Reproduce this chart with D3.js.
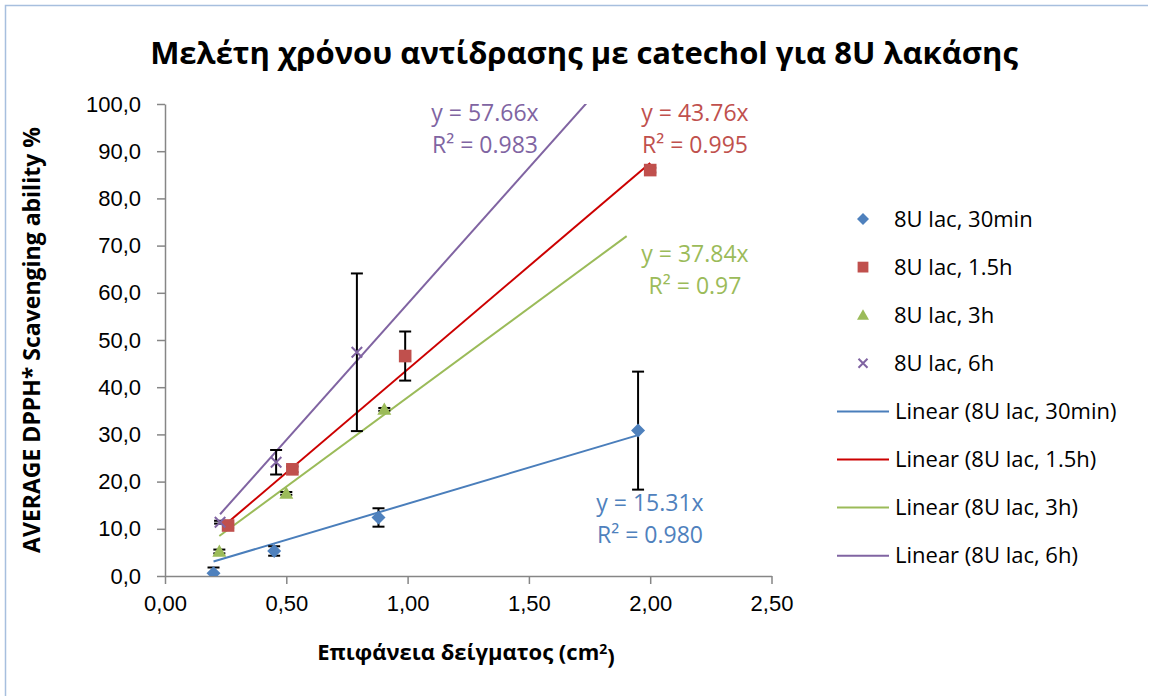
<!DOCTYPE html>
<html>

<head>
    <title>Μελέτη χρόνου αντίδρασης</title>
    <script src="https://d3js.org/d3.v7.min.js"></script>
    <style>
        body {
            margin: 0;
            background: #fff;
            font-family: "Open Sans", "Noto Sans", sans-serif;
        }

        .axis path,
        .axis line {
            stroke: #868686;
            stroke-width: 1.5px;
        }

        .axis text {
            font-size: 22px;
            fill: #000;
        }
    </style>
</head>

<body>
    <div id="chart"></div>

    <script>
        // series names
        const seriesNames = ["8U lac, 30min", "8U lac, 1.5h", "8U lac, 3h", "8U lac, 6h"];

        // sample surface (cm2) and average scavenging ability (%) per series
        const xs30min = [0.20, 0.45, 0.88, 1.95];
        const ys30min = [0.6, 5.3, 12.4, 30.8];
        const err30min = [1.2, 1.0, 1.95, 12.5];

        const xs15h = [0.26, 0.525, 0.99, 2.00];
        const ys15h = [10.7, 22.6, 46.6, 86.0];
        const err15h = [0.5, 0.6, 5.2, 0.5];

        const xs3h = [0.224, 0.50, 0.904];
        const ys3h = [5.2, 17.5, 35.3];
        const err3h = [0.4, 0.3, 0.3];

        const xs6h = [0.227, 0.458, 0.791];
        const ys6h = [11.4, 24.1, 47.4];
        const err6h = [0.3, 2.6, 16.7];

        // linear trend lines through origin (y = a*x) and their x range
        const trendSlopes = [15.31, 43.76, 37.84, 57.66];
        const trendR2 = ["0.980", "0.995", "0.97", "0.983"];
        const trendFrom = [0.20, 0.26, 0.224, 0.227];
        const trendTo = [1.95, 2.00, 1.903, 1.95];

        // axis ticks
        const xTicks = [0, 0.5, 1, 1.5, 2, 2.5];
        const yTicks = [0, 10, 20, 30, 40, 50, 60, 70, 80, 90, 100];

        const markerColors = ["#4F81BD", "#C0504D", "#9BBB59", "#8064A2"];
        const lineColors = ["#4A7EBB", "#CC0000", "#9BBB59", "#8064A2"];

        const series = [
            { xs: xs30min, ys: ys30min, err: err30min, shape: "diamond" },
            { xs: xs15h, ys: ys15h, err: err15h, shape: "square" },
            { xs: xs3h, ys: ys3h, err: err3h, shape: "triangle" },
            { xs: xs6h, ys: ys6h, err: err6h, shape: "cross" }
        ];

        const width = 1153, height = 696;
        const margin = { top: 104, right: 381.5, bottom: 120, left: 165 };
        const plotW = width - margin.left - margin.right,
            plotH = height - margin.top - margin.bottom;

        const locale = d3.formatLocale({ decimal: ",", thousands: ".", grouping: [3], currency: ["", "€"] });

        const svg = d3.select("#chart")
            .append("svg")
            .attr("width", width)
            .attr("height", height);

        // chart frame
        svg.append("path")
            .attr("d", `M5.5,${height} V5.5 H1148`)
            .attr("fill", "none")
            .attr("stroke", "#A7BFDE")
            .attr("stroke-width", 1.5);

        svg.append("text")
            .attr("x", 584)
            .attr("y", 64)
            .attr("text-anchor", "middle")
            .style("font-size", "31px")
            .style("font-weight", "bold")
            .text("Μελέτη χρόνου αντίδρασης με catechol για 8U λακάσης");

        const g = svg.append("g")
            .attr("transform", `translate(${margin.left},${margin.top})`);

        g.append("clipPath").attr("id", "plotClip")
            .append("rect").attr("width", plotW).attr("height", plotH);

        const x = d3.scaleLinear().domain([0, 2.5]).range([0, plotW]);
        const y = d3.scaleLinear().domain([0, 100]).range([plotH, 0]);

        g.append("g")
            .attr("class", "axis")
            .attr("transform", `translate(0,${plotH})`)
            .call(d3.axisBottom(x).tickValues(xTicks).tickSize(8).tickSizeOuter(0)
                .tickFormat(locale.format(".2f")))
            .selectAll("text").attr("dy", "1.1em");

        g.append("g")
            .attr("class", "axis")
            .call(d3.axisLeft(y).tickValues(yTicks).tickSize(8).tickSizeOuter(0)
                .tickFormat(locale.format(".1f")))
            .selectAll("text").attr("x", -24);

        svg.append("text")
            .attr("transform", "translate(40,340) rotate(-90)")
            .attr("text-anchor", "middle")
            .style("font-size", "23px")
            .style("font-weight", "bold")
            .text("AVERAGE DPPH* Scavenging ability %");

        const xTitle = svg.append("text")
            .attr("x", 466)
            .attr("y", 660)
            .attr("text-anchor", "middle")
            .style("font-size", "22px")
            .style("font-weight", "bold");
        xTitle.append("tspan").text("Επιφάνεια δείγματος (cm");
        xTitle.append("tspan").text("2").attr("dy", "-0.45em").style("font-size", "14px");
        xTitle.append("tspan").text(")").attr("dy", "0.45em");

        const plot = g.append("g").attr("clip-path", "url(#plotClip)");

        // trend lines
        trendSlopes.forEach((a, i) => {
            plot.append("line")
                .attr("x1", x(trendFrom[i]))
                .attr("y1", y(a * trendFrom[i]))
                .attr("x2", x(trendTo[i]))
                .attr("y2", y(a * trendTo[i]))
                .attr("stroke", lineColors[i])
                .attr("stroke-width", 2);
        });

        function drawMarker(sel, shape, color, r) {
            if (shape === "diamond") {
                sel.append("path").attr("d", `M0,${-r}L${r},0L0,${r}L${-r},0Z`).attr("fill", color);
            } else if (shape === "square") {
                const h = r * 0.9;
                sel.append("rect").attr("x", -h).attr("y", -h).attr("width", 2 * h).attr("height", 2 * h)
                    .attr("fill", color);
            } else if (shape === "triangle") {
                sel.append("path").attr("d", `M0,${-r}L${r},${r * 0.75}L${-r},${r * 0.75}Z`).attr("fill", color);
            } else {
                const h = r * 0.75;
                sel.append("path").attr("d", `M${-h},${-h}L${h},${h}M${-h},${h}L${h},${-h}`)
                    .attr("fill", "none").attr("stroke", color).attr("stroke-width", 2);
            }
        }

        // error bars
        series.forEach(s => {
            const eb = plot.append("g").attr("stroke", "#000").attr("stroke-width", 2);
            s.xs.forEach((xv, j) => {
                const cx = x(xv), lo = s.ys[j] - s.err[j], hi = s.ys[j] + s.err[j];
                eb.append("line").attr("x1", cx).attr("x2", cx)
                    .attr("y1", y(lo)).attr("y2", y(hi));
                [lo, hi].forEach(v => {
                    eb.append("line").attr("x1", cx - 6).attr("x2", cx + 6)
                        .attr("y1", y(v)).attr("y2", y(v));
                });
            });
        });

        // markers
        series.forEach((s, i) => {
            s.xs.forEach((xv, j) => {
                const m = plot.append("g")
                    .attr("transform", `translate(${x(xv)},${y(s.ys[j])})`);
                drawMarker(m, s.shape, markerColors[i], 7);
            });
        });

        // trend equations
        const labelPos = [[650, 503], [695, 113], [695, 254], [485, 113]];
        trendSlopes.forEach((a, i) => {
            const t = svg.append("text")
                .attr("x", labelPos[i][0])
                .attr("y", labelPos[i][1])
                .attr("text-anchor", "middle")
                .attr("fill", markerColors[i])
                .style("font-size", "23px");
            t.append("tspan").attr("x", labelPos[i][0]).attr("dy", "0.35em")
                .text(`y = ${a.toFixed(2)}x`);
            t.append("tspan").attr("x", labelPos[i][0]).attr("dy", "1.4em")
                .text(`R² = ${trendR2[i]}`);
        });

        // legend
        const legend = svg.append("g").attr("transform", "translate(0,219)");
        seriesNames.forEach((name, i) => {
            const row = legend.append("g").attr("transform", `translate(0,${i * 48.1})`);
            const m = row.append("g").attr("transform", "translate(863,0)");
            drawMarker(m, series[i].shape, markerColors[i], 6);
            row.append("text").attr("x", 894).attr("dy", "0.35em")
                .style("font-size", "22px").text(name);
        });
        seriesNames.forEach((name, i) => {
            const row = legend.append("g").attr("transform", `translate(0,${(i + 4) * 48.1})`);
            row.append("line").attr("x1", 837).attr("x2", 889)
                .attr("stroke", lineColors[i]).attr("stroke-width", 2);
            row.append("text").attr("x", 895).attr("dy", "0.35em")
                .style("font-size", "22px").text(`Linear (${name})`);
        });
    </script>
</body>

</html>
